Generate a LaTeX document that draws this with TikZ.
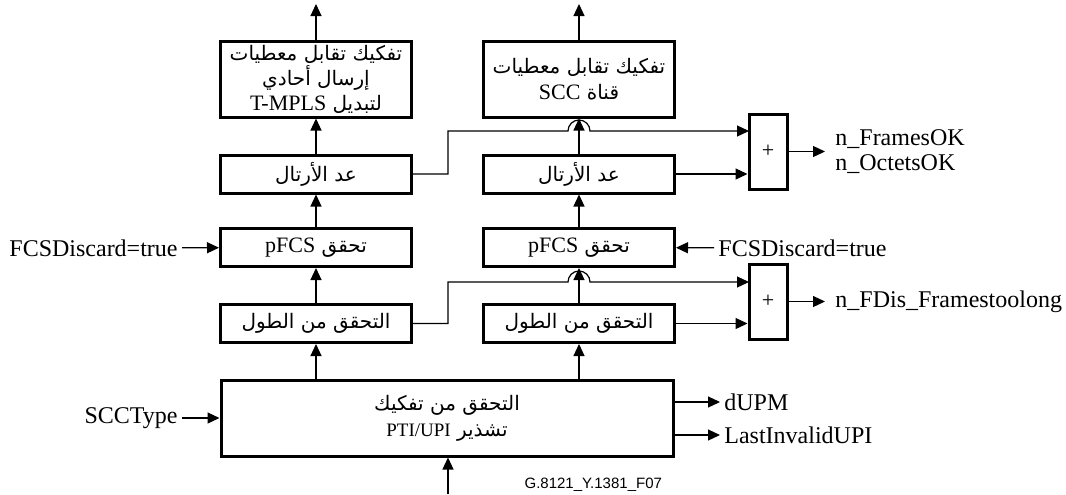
\documentclass[tikz,border=0pt]{standalone}
\usepackage{fontspec}
\setmainfont{Liberation Serif}
\setsansfont{Liberation Sans}
\newfontfamily\arabicfont[Script=Arabic]{DejaVu Sans}
\TeXXeTstate=1
\usetikzlibrary{arrows.meta,positioning}

% one line of Arabic text, Latin words go through \lat
\newcommand{\arln}[1]{{\arabicfont\fontsize{10}{12}\selectfont\beginR #1\endR}}
\newcommand{\lat}[2][11]{\beginL{\rmfamily\fontsize{#1}{12}\selectfont #2}\endL{}}

\begin{document}
\begin{tikzpicture}[x=0.5pt,y=-0.5pt,
    box/.style={draw, line width=1.5pt, align=center, inner sep=1pt},
    colbox/.style={box, minimum width=95.5pt, minimum height=19pt},
    plusbox/.style={box, minimum width=19pt, minimum height=37.5pt},
    arr/.style={line width=0.6pt, -{Triangle[length=6pt,width=5.5pt]}},
    lbl/.style={font=\fontsize{12}{12.5}\selectfont, inner sep=2pt}]
  \useasboundingbox (0,0) rectangle (1066,494);

  % top blocks
  \node[box, minimum width=95.5pt, minimum height=38pt] (tl) at (316,79)
    {\arln{تفكيك تقابل معطيات}\\[0.5pt] \arln{إرسال أحادي}\\[0.5pt] \arln{لتبديل \lat{T-MPLS}}};
  \node[box, minimum width=95.5pt, minimum height=38pt] (tr) at (579,79)
    {\arln{تفكيك تقابل معطيات}\\[1pt] \arln{قناة \lat{SCC}}};

  % the two columns
  \node[colbox] (cl) at (316,174) {\arln{عد الأرتال}};
  \node[colbox] (cr) at (579,174) {\arln{عد الأرتال}};
  \node[colbox] (pl) at (316,247.5) {\arln{تحقق \lat{pFCS}}};
  \node[colbox] (pr) at (579,247.5) {\arln{تحقق \lat{pFCS}}};
  \node[colbox] (ll) at (316,323.5) {\arln{التحقق من الطول}};
  \node[colbox] (lr) at (579,323.5) {\arln{التحقق من الطول}};
  \node[box, minimum width=226pt, minimum height=38pt] (big) at (447,418)
    {\arln{التحقق من تفكيك}\\[1pt] \arln{تشذير \lat[9.5]{PTI/UPI}}};

  \node[plusbox] (sum1) at (768,151.5) {\fontsize{11}{11}\selectfont +};
  \node[plusbox] (sum2) at (768,301.5) {\fontsize{11}{11}\selectfont +};

  % labels
  \node[lbl, anchor=east] (fcsl) at (182,248) {FCSDiscard=true};
  \node[lbl, anchor=west] (fcsr) at (714,248) {FCSDiscard=true};
  \node[lbl, anchor=east] (scct) at (182,418) {SCCType};
  \node[lbl, anchor=west] (dupm) at (720,402) {dUPM};
  \node[lbl, anchor=west] (lupi) at (720,435) {LastInvalidUPI};
  \node[lbl, anchor=west, align=left, inner sep=5pt] (fok) at (825,151.5) {n\_FramesOK\\n\_OctetsOK};
  \node[lbl, anchor=west, inner sep=5pt] (fdis) at (825,301.5) {n\_FDis\_Framestoolong};
  \node[font=\sffamily\fontsize{7.5}{8}\selectfont, anchor=base east] (fig) at (669,488) {G.8121\_Y.1381\_F07};

  \coordinate (outl) at (316,4);
  \coordinate (outr) at (579,4);
  \coordinate (inb) at (448,494);
  \coordinate (j1) at (448,131);
  \coordinate (j2) at (448,282);
  \coordinate (in1) at (749,131);
  \coordinate (in2) at (749,282);

  % data path
  \draw[arr] (tl) -- (outl);
  \draw[arr] (tr) -- (outr);
  \draw[arr] (cl) -- (tl);
  \draw[arr] (cr) -- (tr);
  \draw[arr] (pl) -- (cl);
  \draw[arr] (pr) -- (cr);
  \draw[arr] (ll) -- (pl);
  \draw[arr] (lr) -- (pr);
  \draw[arr] (ll.south |- big.north) -- (ll);
  \draw[arr] (lr.south |- big.north) -- (lr);
  \draw[arr] (inb) -- (inb |- big.south);

  % counters with hops over the right column
  \draw[arr] (cl.east) -| (j1) -- (568,131) arc[start angle=180, end angle=0, radius=5.5pt] -- (in1);
  \draw[arr] (cr.east) -- (cr.east -| sum1.west);
  \draw[arr] (ll.east) -| (j2) -- (568,282) arc[start angle=180, end angle=0, radius=5.5pt] -- (in2);
  \draw[arr] (lr.east) -- (lr.east -| sum2.west);
  \draw[arr] (sum1) -- (fok);
  \draw[arr] (sum2) -- (fdis);

  % side inputs and outputs
  \draw[arr] (fcsl) -- (pl);
  \draw[arr] (fcsr) -- (pr);
  \draw[arr] (scct) -- (scct -| big.west);
  \draw[arr] (dupm -| big.east) -- (dupm);
  \draw[arr] (lupi -| big.east) -- (lupi);
\end{tikzpicture}
\end{document}
